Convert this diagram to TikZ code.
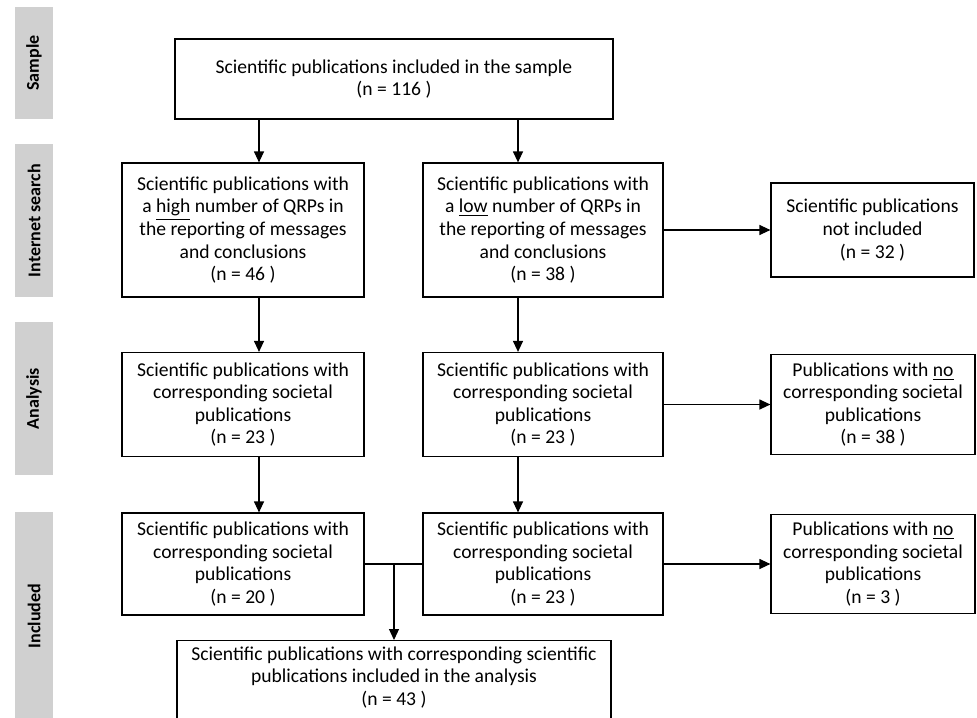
\documentclass[tikz,border=0pt]{standalone}
\usepackage{fontspec}
\setmainfont{Carlito}
\usetikzlibrary{arrows.meta}
\definecolor{bandgray}{RGB}{208,208,208}
\tikzset{
  box/.style={draw, line width=0.6pt, align=center, inner sep=2pt,
    font=\fontsize{9.8}{11.3}\selectfont},
  band/.style={fill=bandgray, rotate=90, minimum height=19pt, inner sep=0pt,
    font=\bfseries\fontsize{9}{10}\selectfont},
  arr/.style={line width=0.6pt, -{Triangle[length=5.5pt,width=5pt]}},
  link/.style={line width=0.6pt},
}
\begin{document}
\begin{tikzpicture}[x=0.5pt,y=-0.5pt]
\clip (0,0) rectangle (977,717);
% phase bands on the left
\node[band, minimum width=56pt] (bSample) at (34,63) {Sample};
\node[band, minimum width=76.5pt] (bSearch) at (34,220.5) {Internet search};
\node[band, minimum width=76.5pt] (bAnalysis) at (34,398.5) {Analysis};
\node[band, minimum width=104pt] (bIncluded) at (34,616) {Included};

% boxes
\node[box, minimum width=219pt, minimum height=40pt] (sample) at (394,79)
  {Scientific publications included in the sample\\(n = 116 )};

\node[box, minimum width=121pt, minimum height=67pt] (hi) at (243,230)
  {Scientific publications with\\a \underline{high} number of QRPs in\\the reporting of messages\\and conclusions\\(n = 46 )};
\node[box, minimum width=120pt, minimum height=67pt] (lo) at (543,230)
  {Scientific publications with\\a \underline{low} number of QRPs in\\the reporting of messages\\and conclusions\\(n = 38 )};
\node[box, minimum width=101.5pt, minimum height=47pt] (notinc) at (872.5,230)
  {Scientific publications\\not included\\(n = 32 )};

\node[box, minimum width=121pt, minimum height=52pt] (hisoc) at (243,404.5)
  {Scientific publications with\\corresponding societal\\publications\\(n = 23 )};
\node[box, minimum width=120pt, minimum height=52pt] (losoc) at (543,404.5)
  {Scientific publications with\\corresponding societal\\publications\\(n = 23 )};
\node[box, minimum width=102pt, minimum height=50pt] (nosoc1) at (873,404.5)
  {Publications with \underline{no}\\corresponding societal\\publications\\(n = 38 )};

\node[box, minimum width=121pt, minimum height=51pt] (hiinc) at (243,564)
  {Scientific publications with\\corresponding societal\\publications\\(n = 20 )};
\node[box, minimum width=120pt, minimum height=51pt] (loinc) at (543,564)
  {Scientific publications with\\corresponding societal\\publications\\(n = 23 )};
\node[box, minimum width=102pt, minimum height=49.5pt] (nosoc2) at (873,564)
  {Publications with \underline{no}\\corresponding societal\\publications\\(n = 3 )};

\node[box, anchor=north, minimum width=217pt, inner ysep=3pt, minimum height=50pt, text depth=20pt] (final) at (394,640)
  {Scientific publications with corresponding scientific\\publications included in the analysis\\(n = 43 )};

% connectors
\coordinate (cl) at (259,0);
\coordinate (cr) at (518,0);
\coordinate (cm) at (394,0);
\draw[arr] (sample.south -| cl) -- (hi.north -| cl);
\draw[arr] (sample.south -| cr) -- (lo.north -| cr);
\draw[arr] (hi.south -| cl) -- (hisoc.north -| cl);
\draw[arr] (lo.south -| cr) -- (losoc.north -| cr);
\draw[arr] (hisoc.south -| cl) -- (hiinc.north -| cl);
\draw[arr] (losoc.south -| cr) -- (loinc.north -| cr);
\draw[arr] (lo.east) -- (notinc.west);
\draw[arr] (losoc.east) -- (nosoc1.west);
\draw[arr] (loinc.east) -- (nosoc2.west);
\draw[link] (hiinc.east) -- (loinc.west);
\draw[arr] (hiinc.east -| cm) -- (final.north -| cm);
\end{tikzpicture}
\end{document}
